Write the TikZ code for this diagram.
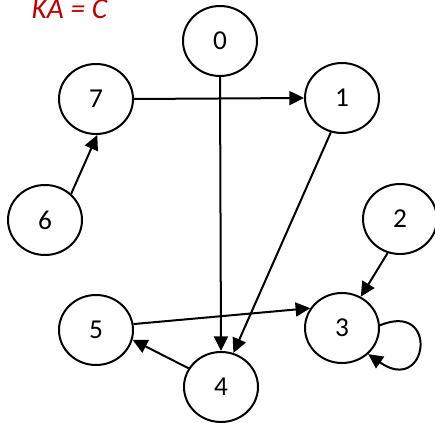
\documentclass[tikz,border=0pt]{standalone}
\usepackage{fontspec}
\setmainfont{Carlito}
\usetikzlibrary{shapes.geometric,arrows.meta}
\definecolor{labelred}{RGB}{192,0,0}
\tikzset{
  vertex/.style={draw, ellipse, line width=1.5pt, minimum width=55.5pt, minimum height=52.5pt,
    inner sep=0pt, font=\fontsize{20.5}{24}\selectfont},
  edge/.style={line width=1.5pt, -{Triangle[length=11pt,width=10.5pt]}},
}
\begin{document}
\begin{tikzpicture}[x=0.75pt,y=-0.75pt]
  \useasboundingbox (0,0) rectangle (435,423);

  \node[anchor=base west, text=labelred, font=\fontsize{22}{24}\selectfont\itshape] (title) at (27,18.5) {KA = C};

  \node[vertex] (n0) at (220,41) {0};
  \node[vertex] (n7) at (96,99) {7};
  \node[vertex] (n1) at (342,98) {1};
  \node[vertex] (n6) at (45,220) {6};
  \node[vertex] (n2) at (400,219) {2};
  \node[vertex] (n5) at (96,330) {5};
  \node[vertex] (n3) at (342,328) {3};
  \node[vertex] (n4) at (221,387) {4};

  \draw[edge] (n7.east) -- (n1.west);
  \draw[edge] (n6.45) -- (n7.272);
  \draw[edge] (n0.south) -- (n4.north);
  \draw[edge] (n1.252) -- (n4.70);
  \draw[edge] (n2.250) -- (n3.59);
  \draw[edge] (n5.9) -- (n3.148);
  \draw[edge] (n4.150) -- (n5.345);
  \draw[edge] (n3.4) .. controls +(60,-25) and +(60,42) .. (n3.-45);
\end{tikzpicture}
\end{document}
